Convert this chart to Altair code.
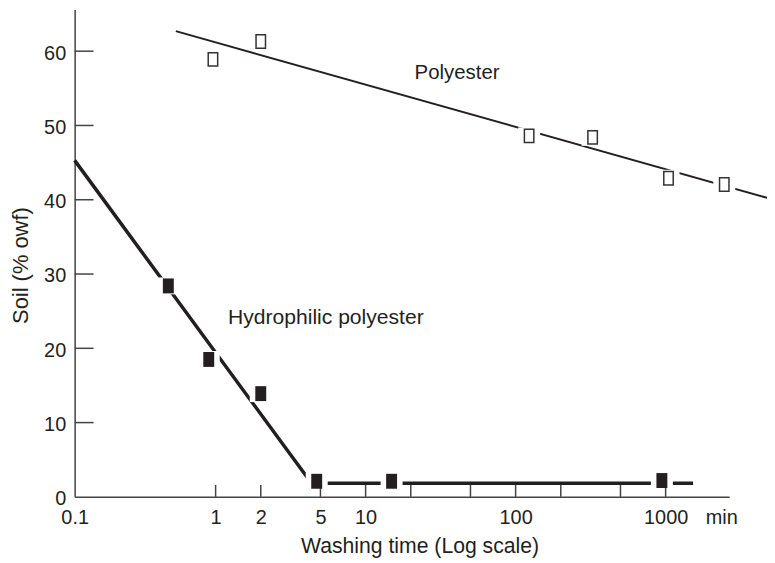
import altair as alt
import pandas as pd

# ---- data ----
poly_time = [0.96, 2, 123, 326, 1045, 2459]
poly_soil = [58.9, 61.3, 48.6, 48.4, 42.9, 42.05]
hydro_time = [0.484, 0.9, 2, 4.72, 14.9, 944]
hydro_soil = [28.4, 18.5, 13.9, 2.1, 2.1, 2.2]

poly_fit_time = [0.543, 4864]
poly_fit_soil = [62.7, 40.2]
hydro_fit_time = [0.1149, 4.36, 1524]
hydro_fit_soil = [45.3, 1.83, 1.83]

x_tick_values = [1, 2, 5, 10, 20, 50, 100, 200, 500, 1000]
x_label_values = [0.1149, 1, 2, 5, 10, 100, 1000, 2350]
y_tick_values = [10, 20, 30, 40, 50, 60]
y_label_values = [0, 10, 20, 30, 40, 50, 60]

poly_label = ["Polyester"]
poly_label_time = [21.2]
poly_label_soil = [56.3]
hydro_label = ["Hydrophilic polyester"]
hydro_label_time = [1.21]
hydro_label_soil = [23.3]

x_domain = [0.1149, 2653]
y_domain = [0, 65.62]

# ---- styling ----
W, H = 658, 490
INK = "#231f20"
AX = "#444444"
FONT = "Liberation Sans"

HALO = "M-1.3,-1L1.3,-1L1.3,1L-1.3,1Z"
FILLED = "M-0.733,-1L0.733,-1L0.733,1L-0.733,1Z"
OPEN = "M-0.633,-0.9L0.633,-0.9L0.633,0.9L-0.633,0.9Z"

poly_df = pd.DataFrame({"x": poly_time, "y": poly_soil})
hydro_df = pd.DataFrame({"x": hydro_time, "y": hydro_soil})
all_pts = pd.concat([poly_df, hydro_df], ignore_index=True)
poly_fit = pd.DataFrame({"x": poly_fit_time, "y": poly_fit_soil})
hydro_fit = pd.DataFrame({"x": hydro_fit_time, "y": hydro_fit_soil})
xticks_df = pd.DataFrame({"x": x_tick_values})
yticks_df = pd.DataFrame({"y": y_tick_values})
poly_lab_df = pd.DataFrame({"x": poly_label_time, "y": poly_label_soil, "t": poly_label})
hydro_lab_df = pd.DataFrame({"x": hydro_label_time, "y": hydro_label_soil, "t": hydro_label})

xs = alt.Scale(type="log", domain=x_domain, nice=False)
ys = alt.Scale(domain=y_domain, nice=False, zero=False)

x_axis = alt.Axis(
    values=x_label_values,
    labelExpr="datum.value < 0.5 ? '0.1' : (datum.value > 2000 ? 'min' : format(datum.value, 'd'))",
    ticks=False, tickSize=0, grid=False,
    labelFlush=False, labelOverlap=False, labelPadding=11,
    labelFontSize=20, labelFont=FONT, labelColor=INK,
    domainColor=AX, domainWidth=1.5,
    title="Washing time (Log scale)", titleFont=FONT, titleFontSize=21.3,
    titleFontWeight="normal", titleColor=INK,
    titleX=346.7, titleY=56, titleBaseline="alphabetic", titleAlign="center",
)
y_axis = alt.Axis(
    values=y_label_values,
    ticks=False, tickSize=0, grid=False,
    labelPadding=9, labelOffset=2,
    labelFontSize=20, labelFont=FONT, labelColor=INK,
    domainColor=AX, domainWidth=1.5,
    title="Soil (% owf)", titleFont=FONT, titleFontSize=22,
    titleFontWeight="normal", titleColor=INK,
    titleX=-47, titleY=257, titleBaseline="alphabetic", titleAlign="center", titleAngle=270,
)

X = alt.X("x:Q", scale=xs, axis=x_axis)
Y = alt.Y("y:Q", scale=ys, axis=y_axis)

poly_line = alt.Chart(poly_fit).mark_line(color=INK, strokeWidth=2).encode(x=X, y=Y)
hydro_line = alt.Chart(hydro_fit).mark_line(color=INK, strokeWidth=3.5).encode(x=X, y=Y)

halos = alt.Chart(all_pts).mark_point(
    shape=HALO, size=289, filled=True, fill="white", strokeWidth=0, opacity=1
).encode(x=X, y=Y)

xticks = alt.Chart(xticks_df).mark_rule(color=AX, strokeWidth=1.5).encode(
    x=X, y=alt.value(H), y2=alt.value(H - 12)
)
yticks = alt.Chart(yticks_df).mark_rule(color=AX, strokeWidth=1.5).encode(
    y=Y, x=alt.value(0), x2=alt.value(19)
)

poly_pts = alt.Chart(poly_df).mark_point(
    shape=OPEN, size=225, filled=True, fill="white", stroke="#333333",
    strokeWidth=1.5, opacity=1
).encode(x=X, y=Y)
hydro_pts = alt.Chart(hydro_df).mark_point(
    shape=FILLED, size=225, filled=True, fill=INK, strokeWidth=0, opacity=1
).encode(x=X, y=Y)

poly_text = alt.Chart(poly_lab_df).mark_text(
    align="left", baseline="alphabetic", fontSize=20.5, font=FONT, color=INK
).encode(x=X, y=Y, text="t:N")
hydro_text = alt.Chart(hydro_lab_df).mark_text(
    align="left", baseline="alphabetic", fontSize=21.2, font=FONT, color=INK
).encode(x=X, y=Y, text="t:N")

chart = alt.layer(
    poly_line, hydro_line, halos, xticks, yticks, poly_pts, hydro_pts, poly_text, hydro_text
).properties(
    width=W, height=H,
    autosize=alt.AutoSizeParams(type="none"),
    padding={"left": 67, "top": 0, "right": 38, "bottom": 60},
).configure_view(strokeWidth=0)

chart.save("out.html", embed_options={"renderer": "svg", "actions": False})
